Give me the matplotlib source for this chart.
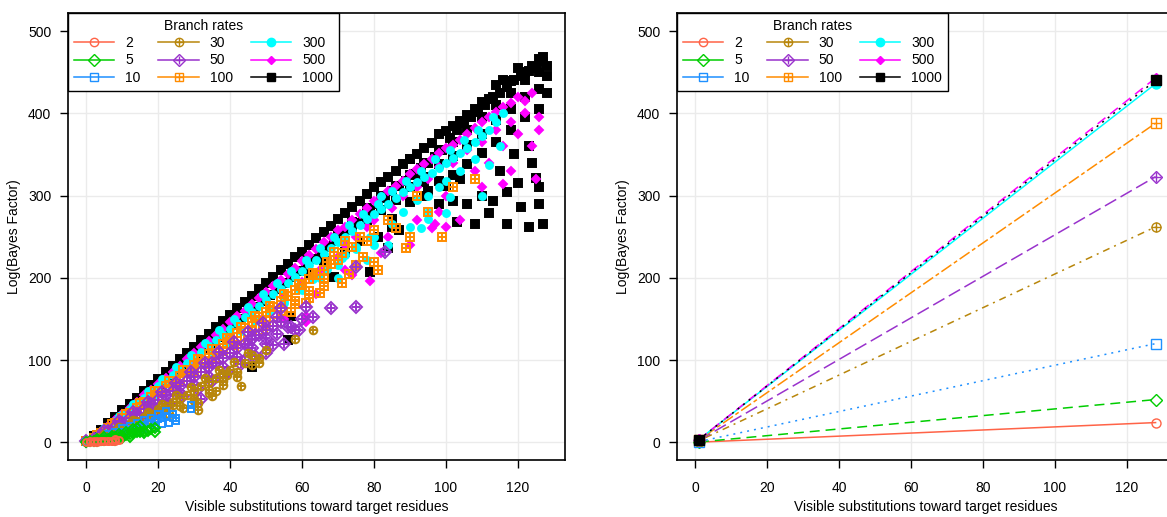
import numpy as np
import matplotlib.pyplot as plt
from matplotlib.lines import Line2D

plt.rcParams['font.family'] = ['Liberation Sans', 'DejaVu Sans']
plt.rcParams['font.size'] = 10

rates = ['2', '5', '10', '30', '50', '100', '300', '500', '1000']
colors = ['#FF6347', '#00CD00', '#1E90FF', '#B8860B', '#9932CC',
          '#FF8C00', '#00FFFF', '#FF00FF', '#000000']

# left panel: (visible substitutions, log Bayes factor)
r2_pts = [(0, 0), (1, 0), (1, 1), (2, 1), (2, 0), (3, 1), (4, 1), (4, 2), (5, 1),
          (5, 2), (6, 1), (6, 2), (7, 2), (8, 2), (9, 3), (8, 4), (3, 0), (7, 1)]

r5_pts = [(0, 0), (1, 1), (2, 1), (3, 2), (4, 3), (5, 3), (6, 4), (7, 5), (8, 6),
          (9, 7), (10, 8), (11, 9), (12, 10), (13, 11), (14, 12), (15, 13), (16, 14),
          (17, 14), (3, 4), (5, 6), (7, 8), (9, 10), (11, 13), (13, 16), (15, 20),
          (18, 16), (19, 12), (19, 17), (14, 17), (16, 11), (12, 7), (10, 5), (8, 3)]

r10_pts = [(0, 0), (1, 1), (2, 2), (3, 3), (4, 4), (5, 5), (6, 7), (7, 8), (8, 9),
           (9, 11), (10, 12), (11, 13), (12, 15), (13, 16), (14, 18), (15, 19),
           (16, 21), (17, 23), (18, 24), (19, 26), (20, 28), (21, 30), (22, 32),
           (6, 10), (8, 13), (10, 17), (12, 20), (14, 24), (16, 27), (18, 30),
           (20, 35), (22, 38), (7, 5), (9, 7), (11, 9), (13, 11), (15, 13), (17, 16),
           (19, 18), (21, 22), (24, 30), (24, 35), (25, 26), (25, 30), (29, 41),
           (29, 45), (23, 24)]

r30_pts = [(0, 0), (2, 3), (4, 6), (6, 10), (8, 14), (10, 18), (12, 22), (14, 26),
           (16, 31), (18, 35), (20, 40), (22, 44), (24, 49), (26, 54), (28, 58),
           (30, 63), (32, 68), (34, 73), (36, 78), (38, 83), (40, 88), (5, 10),
           (9, 19), (13, 27), (17, 37), (21, 47), (25, 57), (29, 67), (33, 78),
           (37, 88), (41, 98), (45, 108), (7, 9), (11, 15), (15, 21), (19, 28),
           (23, 34), (27, 42), (31, 48), (35, 56), (24, 45), (31, 39), (30, 50),
           (36, 63), (39, 82), (43, 68), (44, 96), (46, 94), (46, 106), (48, 96),
           (48, 103), (58, 126), (63, 136), (42, 80), (38, 70), (50, 112), (34, 60),
           (10, 13), (14, 20), (18, 27), (22, 35), (26, 44), (30, 53), (34, 64),
           (38, 75), (42, 85)]

r50_pts = [(0, 1), (2, 4), (4, 9), (6, 14), (8, 19), (10, 24), (12, 29), (14, 35),
           (16, 40), (18, 46), (20, 51), (22, 57), (24, 63), (26, 68), (28, 74),
           (30, 80), (32, 86), (34, 92), (36, 97), (38, 103), (40, 109), (42, 115),
           (44, 120), (46, 126), (48, 131), (50, 136), (52, 141), (54, 146),
           (5, 14), (9, 26), (13, 37), (17, 49), (21, 61), (25, 72), (29, 85),
           (33, 97), (37, 110), (41, 122), (45, 134), (49, 145), (53, 152),
           (7, 12), (11, 19), (15, 28), (19, 38), (23, 46), (27, 56), (31, 65),
           (35, 75), (39, 85), (43, 95), (47, 105), (32, 53), (35, 96), (40, 108),
           (45, 118), (47, 130), (50, 108), (50, 127), (53, 132), (54, 163),
           (55, 120), (56, 140), (57, 140), (58, 136), (59, 136), (61, 164),
           (63, 152), (68, 163), (75, 164), (75, 213), (83, 231), (60, 150),
           (52, 118), (44, 100), (38, 80), (10, 20), (14, 30), (18, 40), (22, 50),
           (26, 60), (30, 70), (34, 80), (38, 92), (42, 104), (46, 115), (50, 120)]

r100_pts = [(0, 1), (2, 5), (4, 11), (6, 17), (8, 23), (10, 29), (12, 36), (14, 42),
            (16, 49), (18, 55), (20, 62), (22, 68), (24, 75), (26, 81), (28, 88),
            (30, 94), (32, 100), (34, 107), (36, 113), (38, 120), (40, 126),
            (42, 133), (44, 139), (46, 146), (48, 152), (50, 158), (52, 165),
            (54, 172), (56, 178), (58, 185), (60, 191), (62, 198), (64, 204),
            (66, 210), (68, 217), (70, 222), (3, 9), (7, 22), (11, 35), (15, 48),
            (19, 62), (23, 75), (27, 88), (31, 101), (35, 114), (39, 127), (43, 140),
            (47, 153), (51, 166), (55, 180), (59, 193), (63, 206), (67, 219),
            (71, 230), (5, 12), (9, 22), (13, 32), (17, 43), (21, 55), (25, 68),
            (29, 80), (33, 90), (37, 102), (41, 113), (45, 125), (49, 136),
            (53, 146), (57, 158), (61, 170), (65, 182), (71, 194), (73, 205),
            (75, 215), (77, 225), (80, 219), (80, 258), (81, 209), (86, 260),
            (89, 236), (90, 250), (92, 300), (95, 280), (99, 250), (102, 311),
            (108, 320), (74, 238), (78, 245), (84, 270), (66, 190), (69, 232),
            (72, 245), (62, 175), (58, 168), (76, 250), (10, 25), (14, 38), (18, 50),
            (22, 62), (26, 75), (30, 87), (34, 99), (38, 111), (42, 123), (46, 135),
            (50, 147), (54, 160), (58, 172), (62, 184), (66, 198)]

r300_pts = [(0, 1), (2, 6), (4, 12), (6, 19), (8, 26), (10, 33), (12, 40), (14, 47),
            (16, 54), (18, 61), (20, 68), (22, 75), (24, 82), (26, 89), (28, 96),
            (30, 103), (32, 110), (34, 117), (36, 124), (38, 131), (40, 138),
            (42, 145), (44, 152), (46, 159), (48, 166), (50, 173), (52, 180),
            (54, 187), (56, 194), (58, 201), (60, 208), (62, 215), (64, 222),
            (66, 229), (68, 236), (70, 243), (72, 250), (74, 257), (76, 264),
            (78, 271), (80, 278), (82, 284), (84, 290), (86, 297), (88, 304),
            (90, 310), (92, 316), (94, 322), (96, 328), (98, 334), (100, 340),
            (102, 346), (104, 352), (106, 358), (108, 365), (110, 372), (112, 380),
            (114, 390), (116, 400), (5, 17), (9, 32), (13, 47), (17, 62), (21, 77),
            (25, 91), (29, 106), (33, 121), (37, 136), (41, 150), (45, 165),
            (49, 180), (53, 194), (57, 208), (61, 222), (65, 236), (69, 250),
            (73, 264), (77, 278), (81, 290), (85, 305), (89, 318), (93, 330),
            (97, 345), (101, 355), (105, 368), (109, 380), (113, 395), (30, 92),
            (40, 125), (47, 150), (55, 170), (60, 185), (65, 200), (70, 215),
            (72, 228), (75, 235), (80, 250), (85, 265), (88, 280), (92, 295),
            (95, 300), (100, 318), (104, 330), (108, 345), (112, 337), (110, 300),
            (95, 280), (90, 262), (84, 240), (78, 222), (70, 200), (82, 300),
            (98, 310), (115, 360), (100, 279), (95, 271), (101, 298), (93, 260),
            (80, 240), (3, 8), (7, 20), (11, 33), (15, 46), (19, 58), (23, 71),
            (27, 84), (31, 96), (35, 109), (39, 122), (43, 135), (47, 148),
            (51, 160), (55, 173), (59, 186), (63, 198), (67, 211), (71, 224),
            (75, 237), (79, 250)]

r500_pts = [(0, 1), (2, 6), (4, 13), (6, 20), (8, 27), (10, 34), (12, 42), (14, 49),
            (16, 57), (18, 64), (20, 71), (22, 78), (24, 86), (26, 93), (28, 101),
            (30, 108), (32, 116), (34, 123), (36, 131), (38, 138), (40, 146),
            (42, 153), (44, 160), (46, 168), (48, 175), (50, 183), (52, 190),
            (54, 197), (56, 205), (58, 212), (60, 220), (62, 228), (64, 235),
            (66, 243), (68, 250), (70, 258), (72, 262), (74, 270), (76, 278),
            (78, 285), (80, 293), (82, 298), (84, 305), (86, 312), (88, 318),
            (90, 326), (92, 332), (94, 338), (96, 345), (98, 352), (100, 358),
            (102, 362), (104, 368), (106, 375), (108, 382), (110, 390), (112, 396),
            (114, 402), (116, 408), (118, 412), (120, 420), (122, 415), (124, 425),
            (20, 58), (30, 95), (40, 128), (48, 150), (55, 180), (60, 195), (65, 210),
            (70, 225), (72, 240), (75, 250), (78, 262), (80, 270), (82, 230),
            (85, 285), (88, 300), (90, 240), (92, 310), (95, 320), (96, 260),
            (98, 335), (100, 300), (102, 340), (104, 270), (106, 355), (108, 330),
            (110, 365), (112, 340), (114, 380), (116, 360), (118, 390), (120, 375),
            (122, 400), (124, 360), (125, 320), (126, 395), (118, 330), (110, 310),
            (98, 280), (84, 250), (64, 180), (55, 150), (35, 110), (100, 262),
            (97, 266), (116, 314), (126, 380), (92, 270), (85, 305), (61, 153),
            (61, 146), (74, 204), (72, 210), (79, 196)]

r1000_pts = [(0, 1), (2, 8), (4, 15), (6, 23), (8, 31), (10, 39), (12, 46), (14, 54),
             (16, 62), (18, 70), (20, 77), (22, 85), (24, 93), (26, 101), (28, 108),
             (30, 116), (32, 124), (34, 132), (36, 140), (38, 147), (40, 155),
             (42, 163), (44, 171), (46, 178), (48, 186), (50, 194), (52, 201),
             (54, 209), (56, 217), (58, 225), (60, 232), (62, 240), (64, 248),
             (66, 256), (68, 263), (70, 271), (72, 279), (74, 286), (76, 294),
             (78, 302), (80, 310), (82, 316), (84, 323), (86, 330), (88, 338),
             (90, 345), (92, 351), (94, 358), (96, 364), (98, 375), (100, 378),
             (102, 384), (104, 391), (106, 398), (108, 405), (110, 414), (112, 418),
             (114, 434), (116, 440), (118, 439), (120, 455), (122, 450), (124, 458),
             (126, 466), (127, 462), (128, 458),
             (1, 2), (3, 9), (5, 15), (7, 22), (9, 29), (11, 36), (13, 43), (15, 50),
             (17, 57), (19, 64), (21, 71), (23, 78), (25, 86), (27, 93), (29, 100),
             (31, 107), (33, 114), (35, 121), (37, 128), (39, 136), (41, 143),
             (43, 150), (45, 157), (47, 165), (49, 172), (51, 179), (53, 186),
             (55, 194), (57, 201), (59, 208), (61, 216), (63, 223), (65, 230),
             (67, 238), (69, 245), (71, 252), (73, 260), (75, 267), (77, 275),
             (79, 282), (81, 290), (83, 297), (85, 305), (87, 312), (89, 318),
             (91, 326), (93, 333), (95, 340), (97, 347), (99, 355),
             (70, 255), (70, 245), (74, 268), (74, 258), (78, 285), (78, 270),
             (82, 300), (82, 282), (86, 312), (86, 295), (90, 325), (90, 310),
             (90, 292), (94, 340), (94, 322), (94, 300), (98, 355), (98, 338),
             (98, 318), (102, 365), (102, 348), (102, 325), (106, 380), (106, 362),
             (106, 338), (110, 395), (110, 375), (110, 352), (114, 410), (114, 392),
             (114, 365), (118, 425), (118, 405), (118, 380), (122, 440), (122, 420),
             (122, 395), (126, 450), (126, 430), (126, 405), (128, 445), (128, 425),
             (117, 266), (127, 266), (123, 262), (108, 266), (103, 268), (112, 279),
             (121, 286), (126, 290), (113, 293), (102, 293), (106, 290), (94, 316),
             (98, 290), (95, 305), (110, 299), (117, 304), (125, 321), (123, 360),
             (126, 310), (87, 258), (85, 272), (79, 207), (90, 345), (72, 232),
             (76, 245), (66, 220), (62, 205), (46, 92), (57, 153), (56, 125),
             (69, 201), (81, 250), (85, 262), (84, 236), (120, 315), (124, 340),
             (115, 330), (119, 350), (104, 320), (100, 312),
             (101, 370), (103, 380), (105, 388), (107, 395), (109, 402), (111, 410),
             (113, 420), (115, 425), (117, 432), (119, 440), (121, 445), (123, 452),
             (125, 455), (127, 468)]

scatter_pts = [r2_pts, r5_pts, r10_pts, r30_pts, r50_pts, r100_pts,
               r300_pts, r500_pts, r1000_pts]

# right panel: fitted lines, value at x = 1 and at x = 128
fit_x = [1, 128]
fit_start = [0.2, 0.4, 0.9, 2.0, 2.5, 3.0, 3.4, 3.5, 3.4]
fit_end = [24, 52, 120, 262, 323, 388, 436, 443, 440]

# marker, filled, with plus, scatter size
marks = [('o', False, False, 5), ('D', False, False, 5), ('s', False, False, 5),
         ('o', False, True, 5.5), ('D', False, True, 6), ('s', False, True, 5.5),
         ('o', True, False, 5), ('D', True, False, 4), ('s', True, False, 5.5)]
dashes = ['-', (0, (6.5, 3.9)), (0, (1.3, 3.3)), (0, (1.3, 3.3, 4.6, 3.3)),
          (0, (8.5, 3.3)), (0, (2.6, 2, 7.9, 2)), '-', (0, (6.5, 3.9)), (0, (1.3, 3.3))]


def draw_points(ax, x, y, i, ms, ls='none', lw=1.1, mew=1.0):
    m, filled, plus, _ = marks[i]
    c = colors[i]
    ax.plot(x, y, ls=ls, lw=lw, color=c, marker=m, ms=ms,
            mfc=c if filled else 'none', mec=c, mew=mew)
    if plus:
        ax.plot(x, y, ls='none', color=c, marker='+', ms=ms, mew=mew)


def legend_handles():
    handles = []
    for i, (m, filled, plus, _) in enumerate(marks):
        c = colors[i]
        ms = 4 if m == 'D' and filled else 6
        h = Line2D([], [], color=c, lw=1.1, marker=m, ms=ms,
                   mfc=c if filled else 'none', mec=c, mew=1.0)
        if plus:
            h = (h, Line2D([], [], ls='none', color=c, marker='+', ms=ms, mew=1.0))
        handles.append(h)
    return handles


def style_axes(ax):
    ax.set_xlim(-5.12, 133.12)
    ax.set_ylim(-21.5, 522)
    ax.set_xticks(range(0, 121, 20))
    ax.set_yticks(range(0, 501, 100))
    ax.grid(True, color='#EBEBEB', lw=1)
    ax.set_axisbelow(True)
    for s in ax.spines.values():
        s.set_linewidth(1.2)
    ax.tick_params(axis='x', direction='out', length=6, width=1, pad=9)
    ax.tick_params(axis='y', direction='out', length=6, width=1, pad=6)
    ax.set_xlabel('Visible substitutions toward target residues', labelpad=4)
    ax.set_ylabel('Log(Bayes Factor)', labelpad=5)
    leg = ax.legend(legend_handles(), rates, loc='upper left', ncol=3,
                    title='Branch rates', borderaxespad=0, fancybox=False,
                    framealpha=1, edgecolor='black', handlelength=2.9,
                    handletextpad=0.8, columnspacing=1.3, labelspacing=0.25,
                    borderpad=0.4, fontsize=10, title_fontsize=10)
    leg.get_frame().set_linewidth(1.0)


fig = plt.figure(figsize=(11.67, 5.17), dpi=100)
ax1 = fig.add_axes([68 / 1167, 57 / 517, 497 / 1167, 447 / 517])
ax2 = fig.add_axes([677 / 1167, 57 / 517, 497 / 1167, 447 / 517])

# scatter of all simulations, highest rate drawn first
for i in reversed(range(len(rates))):
    pts = np.array(scatter_pts[i])
    draw_points(ax1, pts[:, 0], pts[:, 1], i, marks[i][3], mew=1.4)
style_axes(ax1)

# fitted lines
for i in range(len(rates)):
    ms = 5 if marks[i][0] == 'D' and marks[i][1] else 6.5
    draw_points(ax2, fit_x, [fit_start[i], fit_end[i]], i, ms, ls=dashes[i])
style_axes(ax2)

fig.savefig('out.png', dpi=100)
